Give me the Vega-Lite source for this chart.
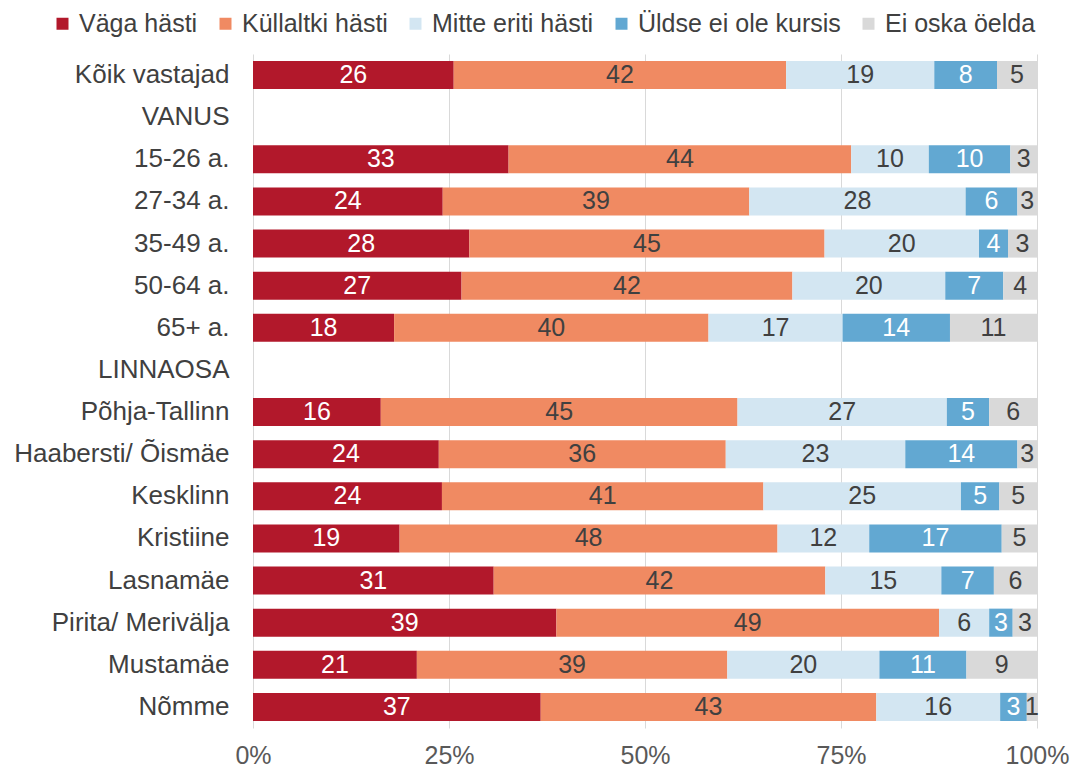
{
  "$schema": "https://vega.github.io/schema/vega-lite/v6.json",
  "width": 784,
  "height": 674,
  "autosize": {"type": "none"},
  "padding": {"left": 253, "top": 54, "right": 39, "bottom": 44},
  "background": "white",
  "config": {
    "view": {"stroke": null},
    "font": "Liberation Sans",
    "text": {"font": "Liberation Sans"}
  },
  "data": {
    "values": [
      {"g": "Kõik vastajad", "cat": "Väga hästi", "k": 1, "v": 25.6, "lab": "26"},
      {"g": "Kõik vastajad", "cat": "Küllaltki hästi", "k": 2, "v": 42.4, "lab": "42"},
      {"g": "Kõik vastajad", "cat": "Mitte eriti hästi", "k": 3, "v": 18.9, "lab": "19"},
      {"g": "Kõik vastajad", "cat": "Üldse ei ole kursis", "k": 4, "v": 8.0, "lab": "8"},
      {"g": "Kõik vastajad", "cat": "Ei oska öelda", "k": 5, "v": 5.1, "lab": "5"},
      {"g": "15-26 a.", "cat": "Väga hästi", "k": 1, "v": 32.6, "lab": "33"},
      {"g": "15-26 a.", "cat": "Küllaltki hästi", "k": 2, "v": 43.7, "lab": "44"},
      {"g": "15-26 a.", "cat": "Mitte eriti hästi", "k": 3, "v": 9.9, "lab": "10"},
      {"g": "15-26 a.", "cat": "Üldse ei ole kursis", "k": 4, "v": 10.4, "lab": "10"},
      {"g": "15-26 a.", "cat": "Ei oska öelda", "k": 5, "v": 3.4, "lab": "3"},
      {"g": "27-34 a.", "cat": "Väga hästi", "k": 1, "v": 24.2, "lab": "24"},
      {"g": "27-34 a.", "cat": "Küllaltki hästi", "k": 2, "v": 39.1, "lab": "39"},
      {"g": "27-34 a.", "cat": "Mitte eriti hästi", "k": 3, "v": 27.6, "lab": "28"},
      {"g": "27-34 a.", "cat": "Üldse ei ole kursis", "k": 4, "v": 6.6, "lab": "6"},
      {"g": "27-34 a.", "cat": "Ei oska öelda", "k": 5, "v": 2.5, "lab": "3"},
      {"g": "35-49 a.", "cat": "Väga hästi", "k": 1, "v": 27.6, "lab": "28"},
      {"g": "35-49 a.", "cat": "Küllaltki hästi", "k": 2, "v": 45.3, "lab": "45"},
      {"g": "35-49 a.", "cat": "Mitte eriti hästi", "k": 3, "v": 19.7, "lab": "20"},
      {"g": "35-49 a.", "cat": "Üldse ei ole kursis", "k": 4, "v": 3.7, "lab": "4"},
      {"g": "35-49 a.", "cat": "Ei oska öelda", "k": 5, "v": 3.7, "lab": "3"},
      {"g": "50-64 a.", "cat": "Väga hästi", "k": 1, "v": 26.6, "lab": "27"},
      {"g": "50-64 a.", "cat": "Küllaltki hästi", "k": 2, "v": 42.2, "lab": "42"},
      {"g": "50-64 a.", "cat": "Mitte eriti hästi", "k": 3, "v": 19.5, "lab": "20"},
      {"g": "50-64 a.", "cat": "Üldse ei ole kursis", "k": 4, "v": 7.4, "lab": "7"},
      {"g": "50-64 a.", "cat": "Ei oska öelda", "k": 5, "v": 4.3, "lab": "4"},
      {"g": "65+ a.", "cat": "Väga hästi", "k": 1, "v": 18.0, "lab": "18"},
      {"g": "65+ a.", "cat": "Küllaltki hästi", "k": 2, "v": 40.1, "lab": "40"},
      {"g": "65+ a.", "cat": "Mitte eriti hästi", "k": 3, "v": 17.1, "lab": "17"},
      {"g": "65+ a.", "cat": "Üldse ei ole kursis", "k": 4, "v": 13.7, "lab": "14"},
      {"g": "65+ a.", "cat": "Ei oska öelda", "k": 5, "v": 11.1, "lab": "11"},
      {"g": "Põhja-Tallinn", "cat": "Väga hästi", "k": 1, "v": 16.3, "lab": "16"},
      {"g": "Põhja-Tallinn", "cat": "Küllaltki hästi", "k": 2, "v": 45.5, "lab": "45"},
      {"g": "Põhja-Tallinn", "cat": "Mitte eriti hästi", "k": 3, "v": 26.7, "lab": "27"},
      {"g": "Põhja-Tallinn", "cat": "Üldse ei ole kursis", "k": 4, "v": 5.4, "lab": "5"},
      {"g": "Põhja-Tallinn", "cat": "Ei oska öelda", "k": 5, "v": 6.1, "lab": "6"},
      {"g": "Haabersti/ Õismäe", "cat": "Väga hästi", "k": 1, "v": 23.7, "lab": "24"},
      {"g": "Haabersti/ Õismäe", "cat": "Küllaltki hästi", "k": 2, "v": 36.6, "lab": "36"},
      {"g": "Haabersti/ Õismäe", "cat": "Mitte eriti hästi", "k": 3, "v": 22.9, "lab": "23"},
      {"g": "Haabersti/ Õismäe", "cat": "Üldse ei ole kursis", "k": 4, "v": 14.3, "lab": "14"},
      {"g": "Haabersti/ Õismäe", "cat": "Ei oska öelda", "k": 5, "v": 2.5, "lab": "3"},
      {"g": "Kesklinn", "cat": "Väga hästi", "k": 1, "v": 24.1, "lab": "24"},
      {"g": "Kesklinn", "cat": "Küllaltki hästi", "k": 2, "v": 41.0, "lab": "41"},
      {"g": "Kesklinn", "cat": "Mitte eriti hästi", "k": 3, "v": 25.2, "lab": "25"},
      {"g": "Kesklinn", "cat": "Üldse ei ole kursis", "k": 4, "v": 4.9, "lab": "5"},
      {"g": "Kesklinn", "cat": "Ei oska öelda", "k": 5, "v": 4.8, "lab": "5"},
      {"g": "Kristiine", "cat": "Väga hästi", "k": 1, "v": 18.7, "lab": "19"},
      {"g": "Kristiine", "cat": "Küllaltki hästi", "k": 2, "v": 48.2, "lab": "48"},
      {"g": "Kristiine", "cat": "Mitte eriti hästi", "k": 3, "v": 11.7, "lab": "12"},
      {"g": "Kristiine", "cat": "Üldse ei ole kursis", "k": 4, "v": 16.9, "lab": "17"},
      {"g": "Kristiine", "cat": "Ei oska öelda", "k": 5, "v": 4.5, "lab": "5"},
      {"g": "Lasnamäe", "cat": "Väga hästi", "k": 1, "v": 30.7, "lab": "31"},
      {"g": "Lasnamäe", "cat": "Küllaltki hästi", "k": 2, "v": 42.3, "lab": "42"},
      {"g": "Lasnamäe", "cat": "Mitte eriti hästi", "k": 3, "v": 14.8, "lab": "15"},
      {"g": "Lasnamäe", "cat": "Üldse ei ole kursis", "k": 4, "v": 6.7, "lab": "7"},
      {"g": "Lasnamäe", "cat": "Ei oska öelda", "k": 5, "v": 5.5, "lab": "6"},
      {"g": "Pirita/ Merivälja", "cat": "Väga hästi", "k": 1, "v": 38.7, "lab": "39"},
      {"g": "Pirita/ Merivälja", "cat": "Küllaltki hästi", "k": 2, "v": 48.8, "lab": "49"},
      {"g": "Pirita/ Merivälja", "cat": "Mitte eriti hästi", "k": 3, "v": 6.4, "lab": "6"},
      {"g": "Pirita/ Merivälja", "cat": "Üldse ei ole kursis", "k": 4, "v": 3.0, "lab": "3"},
      {"g": "Pirita/ Merivälja", "cat": "Ei oska öelda", "k": 5, "v": 3.1, "lab": "3"},
      {"g": "Mustamäe", "cat": "Väga hästi", "k": 1, "v": 20.9, "lab": "21"},
      {"g": "Mustamäe", "cat": "Küllaltki hästi", "k": 2, "v": 39.6, "lab": "39"},
      {"g": "Mustamäe", "cat": "Mitte eriti hästi", "k": 3, "v": 19.4, "lab": "20"},
      {"g": "Mustamäe", "cat": "Üldse ei ole kursis", "k": 4, "v": 11.1, "lab": "11"},
      {"g": "Mustamäe", "cat": "Ei oska öelda", "k": 5, "v": 9.0, "lab": "9"},
      {"g": "Nõmme", "cat": "Väga hästi", "k": 1, "v": 36.7, "lab": "37"},
      {"g": "Nõmme", "cat": "Küllaltki hästi", "k": 2, "v": 42.8, "lab": "43"},
      {"g": "Nõmme", "cat": "Mitte eriti hästi", "k": 3, "v": 15.8, "lab": "16"},
      {"g": "Nõmme", "cat": "Üldse ei ole kursis", "k": 4, "v": 3.4, "lab": "3"},
      {"g": "Nõmme", "cat": "Ei oska öelda", "k": 5, "v": 1.3, "lab": "1"}
    ]
  },
  "transform": [
    {"stack": "v", "groupby": ["g"], "sort": [{"field": "k", "order": "ascending"}], "as": ["x0", "x1"], "offset": "normalize"},
    {"calculate": "(datum.x0 + datum.x1) / 2", "as": "xm"}
  ],
  "encoding": {
    "y": {
      "field": "g",
      "type": "nominal",
      "title": null,
      "scale": {
        "domain": ["Kõik vastajad", "VANUS", "15-26 a.", "27-34 a.", "35-49 a.", "50-64 a.", "65+ a.", "LINNAOSA", "Põhja-Tallinn", "Haabersti/ Õismäe", "Kesklinn", "Kristiine", "Lasnamäe", "Pirita/ Merivälja", "Mustamäe", "Nõmme"],
        "paddingInner": 0.333,
        "paddingOuter": 0.1667
      },
      "axis": {
        "domain": false,
        "ticks": false,
        "grid": false,
        "labelFontSize": 26,
        "labelColor": "#404040",
        "labelPadding": 24,
        "labelLimit": 400,
        "labelFont": "Liberation Sans"
      }
    }
  },
  "layer": [
    {
      "mark": {"type": "bar"},
      "encoding": {
        "x": {
          "field": "x0",
          "type": "quantitative",
          "title": null,
          "scale": {"domain": [0, 1], "nice": false, "zero": true},
          "axis": {
            "values": [0, 0.25, 0.5, 0.75, 1],
            "format": ".0%",
            "domain": false,
            "ticks": false,
            "grid": true,
            "gridColor": "#D9D9D9",
            "gridWidth": 1,
            "labelFontSize": 25,
            "labelColor": "#595959",
            "labelPadding": 15,
            "labelFlush": false,
            "labelFont": "Liberation Sans"
          }
        },
        "x2": {"field": "x1"},
        "color": {
          "field": "cat",
          "type": "nominal",
          "scale": {
            "domain": ["Väga hästi", "Küllaltki hästi", "Mitte eriti hästi", "Üldse ei ole kursis", "Ei oska öelda"],
            "range": ["#B2182B", "#F08A62", "#D3E6F2", "#62A8D2", "#D9D9D9"]
          },
          "legend": {
            "title": null,
            "orient": "none",
            "direction": "horizontal",
            "legendX": -203,
            "legendY": -43,
            "symbolType": "square",
            "symbolSize": 144,
            "symbolStrokeWidth": 0,
            "labelFontSize": 25,
            "labelColor": "#404040",
            "labelFont": "Liberation Sans",
            "labelOffset": 4,
            "columnPadding": 15,
            "labelLimit": 400
          }
        }
      }
    },
    {
      "mark": {"type": "text", "fontSize": 25, "baseline": "middle", "align": "center"},
      "encoding": {
        "x": {"field": "xm", "type": "quantitative"},
        "text": {"field": "lab"},
        "color": {
          "condition": {"test": "datum.k === 1 || datum.k === 4", "value": "#FFFFFF"},
          "value": "#404040"
        }
      }
    }
  ]
}
